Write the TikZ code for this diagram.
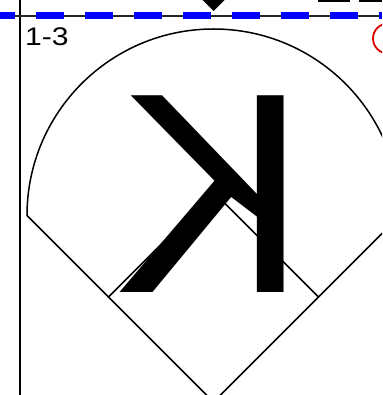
\documentclass[tikz,border=0pt]{standalone}
\usepackage{fontspec}
\setmainfont{Liberation Sans}
\usepackage{graphicx}
\usetikzlibrary{positioning}

\begin{document}
\begin{tikzpicture}[
    x=1pt, y=-1pt,
    field/.style={
        draw=black,
        line width=1.5pt,
        line join=miter
    },
    rail/.style={
        draw=black!85,
        line width=1.3pt
    },
    zone/.style={
        draw=blue,
        line width=7pt,
        dash pattern=on 28.7pt off 20.3pt,
        dash phase=13.3pt
    },
    label/.style={
        inner sep=0pt,
        text=black
    }
]
    \useasboundingbox (0,0) rectangle (382,395);
    \clip (0,0) rectangle (382,395);

    % Field corners
    \coordinate (home)   at (213.5,402);
    \coordinate (lpole)  at (27,215.5);
    \coordinate (first)  at (318.5,297);
    \coordinate (second) at (213.5,192);
    \coordinate (third)  at (108.5,297);

    % Outfield and foul lines
    \draw[field] (home) -- (lpole)
        arc[start angle=180, end angle=0, radius=186.5pt] -- cycle;

    % Infield
    \draw[field] (third) -- (second) -- (first);

    % Strikeout looking
    \node[label, anchor=base, font=\fontsize{286}{286}\selectfont] (strike) at (212.5,292) {\scalebox{-1}[1]{K}};

    % Count
    \node[label, anchor=base west, font=\fontsize{25.5}{25.5}\selectfont] (count) at (25,46) {\scalebox{1.18}[1]{1-3}};

    % Left border
    \coordinate (ltop) at (20,0);
    \coordinate (lbot) at (20,395);
    \draw[line width=1.5pt] (ltop) -- (lbot);

    % Zone line
    \coordinate (zl) at (0,16);
    \coordinate (zr) at (382,16);
    \draw[rail] (zl) -- (zr);
    \draw[zone] (zl) -- (zr);

    % Pitch marker
    \coordinate (tip) at (213.5,11);
    \fill[black] (tip) -- ++(-15,-15) -- ++(30,0) -- cycle;

    % Cut-off underlines
    \coordinate (u1) at (318,1);
    \coordinate (u2) at (350,1);
    \coordinate (u3) at (359,1);
    \coordinate (u4) at (382,1);
    \draw[line width=1.2pt] (u1) -- (u2) (u3) -- (u4);

    % Red ring
    \coordinate (ring) at (388,38.5);
    \draw[red!85!black, line width=1.8pt] (ring) circle[radius=15pt];
\end{tikzpicture}
\end{document}
